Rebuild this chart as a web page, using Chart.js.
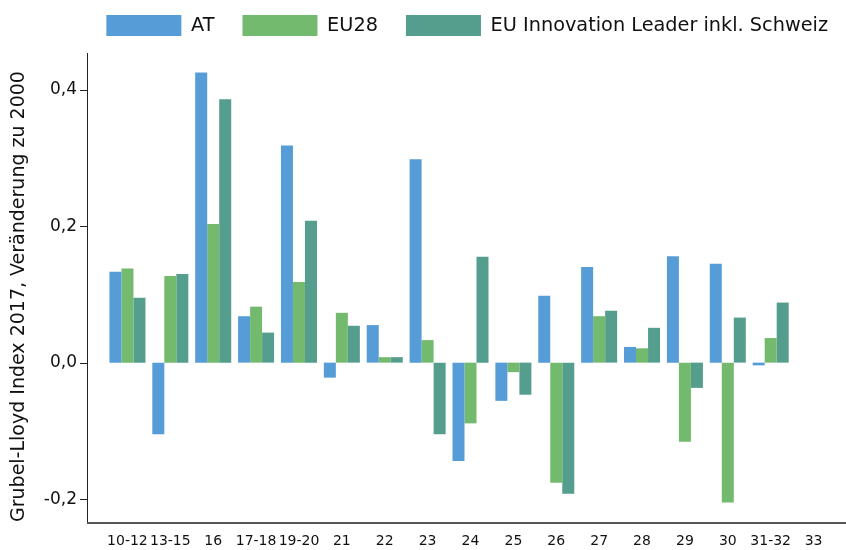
<!DOCTYPE html>
<html>
<head>
<meta charset="utf-8">
<script src="https://cdn.jsdelivr.net/npm/chart.js@4.4.1/dist/chart.umd.min.js"></script>
<style>
  html, body { margin: 0; padding: 0; background: #fff; }
  canvas { display: block; }
</style>
</head>
<body>
<canvas id="myChart" width="846" height="550"></canvas>
<script>
const categories = ["10-12", "13-15", "16", "17-18", "19-20", "21", "22", "23", "24", "25", "26", "27", "28", "29", "30", "31-32", "33"];
const atValues = [0.133, -0.105, 0.425, 0.068, 0.318, -0.022, 0.055, 0.298, -0.144, -0.056, 0.098, 0.140, 0.023, 0.156, 0.145, -0.004, null];
const eu28Values = [0.138, 0.127, 0.203, 0.082, 0.118, 0.073, 0.008, 0.033, -0.089, -0.014, -0.176, 0.068, 0.021, -0.116, -0.205, 0.036, null];
const leaderValues = [0.095, 0.130, 0.386, 0.044, 0.208, 0.054, 0.008, -0.105, 0.155, -0.047, -0.192, 0.076, 0.051, -0.037, 0.066, 0.088, null];
const yTicks = [-0.2, 0.0, 0.2, 0.4];
const yAxisTop = 0.4537; // where the drawn y axis line ends

// axis lines and y tick marks sit left of the bar area, so draw them by hand
const axisLines = {
    id: "axisLines",
    afterDraw(chart) {
        const { ctx, chartArea, scales } = chart;
        const y = scales.y;
        ctx.save();
        ctx.strokeStyle = "#222";
        ctx.lineWidth = 1;
        ctx.beginPath();
        ctx.moveTo(87.5, Math.round(y.getPixelForValue(yAxisTop)));
        ctx.lineTo(87.5, chartArea.bottom);
        y.ticks.forEach((t) => {
            const py = Math.round(y.getPixelForValue(t.value)) + 0.5;
            ctx.moveTo(80, py);
            ctx.lineTo(87.5, py);
        });
        ctx.stroke();
        ctx.strokeStyle = "#555";
        ctx.lineWidth = 2;
        ctx.beginPath();
        ctx.moveTo(87, chartArea.bottom + 1);
        ctx.lineTo(846, chartArea.bottom + 1);
        ctx.stroke();
        ctx.restore();
    },
};

// empty scale used only to reserve room beside the bars
function spacer(position, width, weight) {
    return {
        type: "linear",
        position: position,
        weight: weight,
        grid: { display: false, drawTicks: false },
        border: { display: false },
        ticks: { display: false },
        afterFit: (scale) => { scale.width = width; },
    };
}

function makeChart() {
    const ctx = document.getElementById("myChart").getContext("2d");
    new Chart(ctx, {
        type: "bar",
        data: {
            labels: categories,
            datasets: [
                { label: "AT", data: atValues, backgroundColor: "#569dd8" },
                { label: "EU28", data: eu28Values, backgroundColor: "#73ba6e" },
                { label: "EU Innovation Leader inkl. Schweiz", data: leaderValues, backgroundColor: "#559e8e" },
            ],
        },
        options: {
            responsive: false,
            animation: false,
            layout: { autoPadding: false, padding: { top: -13, right: -10, left: 0, bottom: 0 } },
            datasets: {
                bar: { categoryPercentage: 0.84, barPercentage: 1.0 },
            },
            plugins: {
                tooltip: { enabled: false },
                legend: {
                    position: "top",
                    align: "end",
                    labels: {
                        boxWidth: 75,
                        boxHeight: 21,
                        padding: 28,
                        color: "#111",
                        font: { family: "DejaVu Sans", size: 19.3 },
                    },
                },
            },
            scales: {
                x: {
                    grid: { display: false, drawTicks: false },
                    border: { display: false },
                    ticks: {
                        autoSkip: false,
                        maxRotation: 0,
                        padding: 11,
                        color: "#111",
                        font: { family: "DejaVu Sans", size: 14 },
                    },
                    afterFit: (scale) => { scale.height = 28; },
                },
                y: {
                    min: -0.2335,
                    max: 0.4639,
                    weight: 1,
                    grid: { display: false, drawTicks: false },
                    border: { display: false },
                    ticks: {
                        includeBounds: false,
                        stepSize: 0.2,
                        padding: 0,
                        color: "#111",
                        font: { family: "DejaVu Sans", size: 17 },
                        callback: (v) => v.toFixed(1).replace(".", ","),
                    },
                    afterBuildTicks: (scale) => {
                        scale.ticks = yTicks.map((v) => ({ value: v }));
                    },
                    title: {
                        display: true,
                        align: "start",
                        text: "Grubel-Lloyd Index 2017, Veränderung zu 2000",
                        color: "#111",
                        font: { family: "DejaVu Sans", size: 19 },
                        padding: { top: 8, bottom: 0 },
                    },
                    afterFit: (scale) => { scale.width = 77; },
                },
                gapLeft: spacer("left", 29, 0),
                gapRight: spacer("right", 21, 0),
            },
        },
        plugins: [axisLines],
    });
}

makeChart();
</script>
</body>
</html>
